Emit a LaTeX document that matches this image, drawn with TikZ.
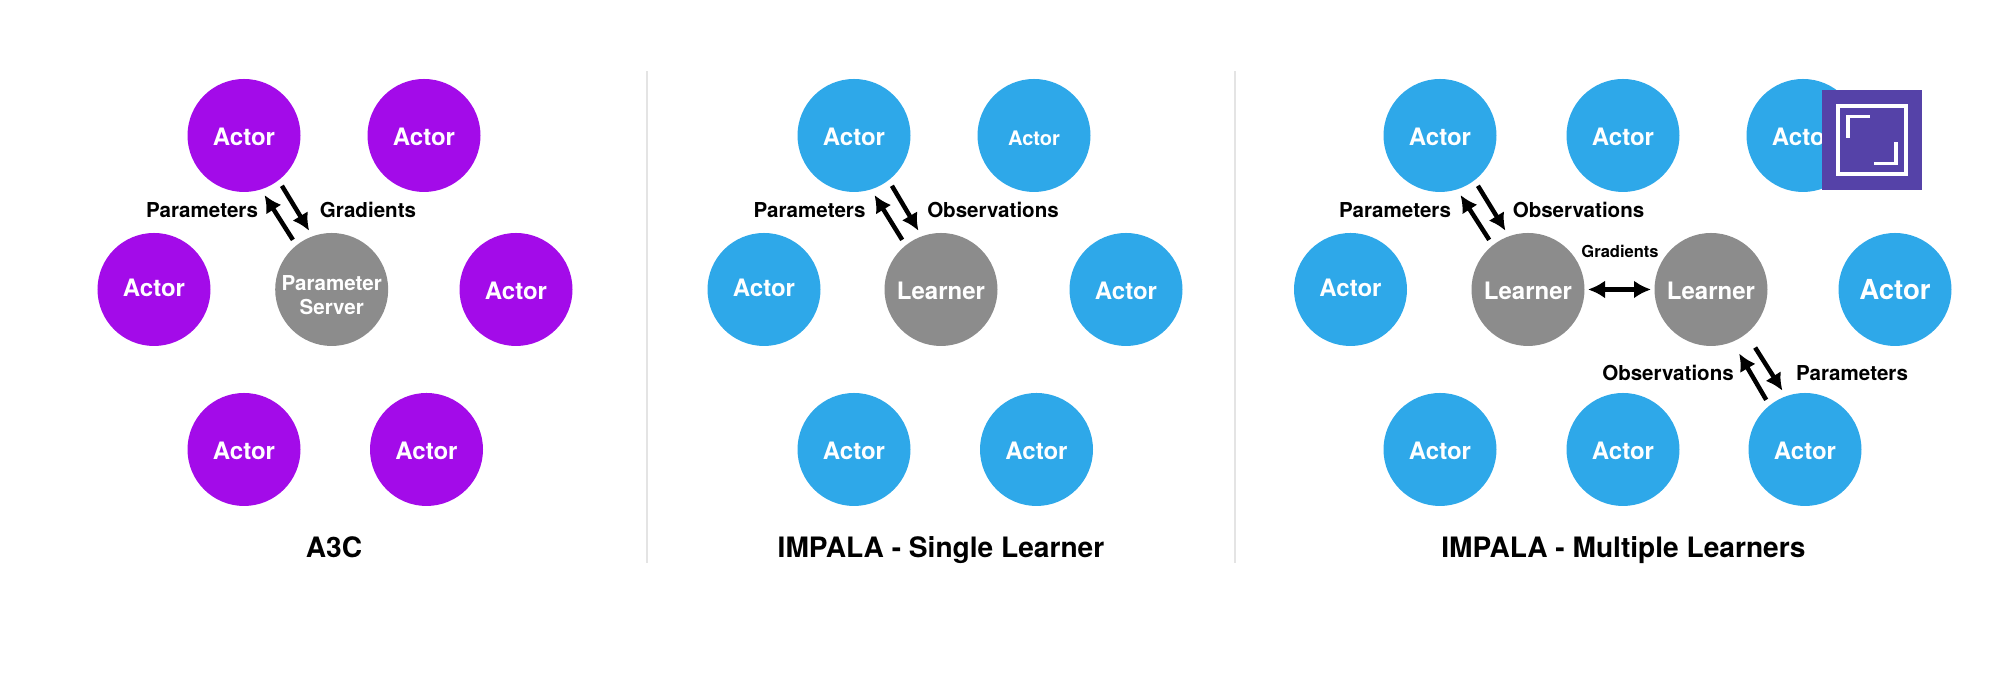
\documentclass[tikz,border=0pt]{standalone}
\usepackage{fontspec}
\setmainfont{TeX Gyre Heros}
\usepackage{xcolor}
\usepackage{tikz}
\usetikzlibrary{arrows.meta,shapes,positioning}
\definecolor{actorblue}{RGB}{46,168,233}
\definecolor{actorpurple}{RGB}{163,11,233}
\definecolor{learnergray}{RGB}{140,140,140}
\definecolor{boxpurple}{RGB}{85,66,168}
\definecolor{dividergray}{RGB}{228,228,228}

\begin{document}
\begin{tikzpicture}[
        circ/.style={circle, inner sep=0pt, outer sep=0.065cm, minimum size=1.13cm, text=white,
            font=\fontsize{6.83}{8}\selectfont\bfseries},
        blue actor/.style={circ, text height=0.2cm, fill=actorblue},
        purple actor/.style={circ, text height=0.2cm, fill=actorpurple},
        raised/.style={text height=0.173cm, text depth=0.03cm},
        learner/.style={circ, text height=0.21cm, fill=learnergray},
        server/.style={circ, fill=learnergray, align=center, font=\fontsize{5.85}{6.9}\selectfont\bfseries},
        caption/.style={inner sep=0pt, font=\fontsize{5.85}{7}\selectfont\bfseries},
        title/.style={inner sep=0pt, anchor=base, font=\fontsize{8}{10}\selectfont\bfseries},
        flow/.style={-{Latex[length=0.17cm,width=0.18cm]}, line width=0.045cm},
        both flow/.style={{Latex[length=0.17cm,width=0.18cm]}-{Latex[length=0.17cm,width=0.18cm]},
            line width=0.045cm, shorten <=-0.03cm, shorten >=-0.03cm},
        divider/.style={dividergray, line width=0.015cm}]

    \useasboundingbox (0,0) rectangle (20.02,6.82);

    \draw[divider] (6.47,6.11) -- (6.47,1.19);
    \draw[divider] (12.35,6.11) -- (12.35,1.19);

    \node[purple actor] (a1) at (2.44,5.465) {Actor};
    \node[purple actor] (a2) at (4.24,5.465) {Actor};
    \node[purple actor, raised] (a3) at (1.54,3.925) {Actor};
    \node[server] (ps) at (3.317,3.925) {\rule{0pt}{0.26cm}Parameter\\Server};
    \node[purple actor] (a4) at (5.16,3.925) {Actor};
    \node[purple actor] (a5) at (2.44,2.325) {Actor};
    \node[purple actor] (a6) at (4.265,2.325) {Actor};

    \draw[flow] (ps.128) -- (a1.289);
    \draw[flow] (a1.-53) -- (ps.111);
    \node[caption] (a3cparam) at (2.02,4.72) {Parameters};
    \node[caption] (a3cgrad) at (3.68,4.72) {Gradients};
    \node[title] (a3ctitle) at (3.34,1.24) {A3C};

    \node[blue actor] (b1) at (8.54,5.465) {Actor};
    \node[blue actor, font=\fontsize{5.7}{7}\selectfont\bfseries] (b2) at (10.34,5.465) {Actor};
    \node[blue actor, raised] (b3) at (7.64,3.925) {Actor};
    \node[learner] (bl) at (9.41,3.925) {Learner};
    \node[blue actor] (b4) at (11.26,3.925) {Actor};
    \node[blue actor] (b5) at (8.54,2.325) {Actor};
    \node[blue actor] (b6) at (10.365,2.325) {Actor};

    \draw[flow] (bl.128) -- (b1.289);
    \draw[flow] (b1.-53) -- (bl.111);
    \node[caption] (bparam) at (8.095,4.72) {Parameters};
    \node[caption] (bobs) at (9.93,4.72) {Observations};
    \node[title] (btitle) at (9.41,1.24) {IMPALA - Single Learner};

    \node[blue actor] (c1) at (14.40,5.465) {Actor};
    \node[blue actor] (c2) at (16.23,5.465) {Actor};
    \node[blue actor] (c3) at (18.03,5.465) {Actor};
    \node[blue actor, raised] (c4) at (13.505,3.925) {Actor};
    \node[learner] (cl1) at (15.28,3.925) {Learner};
    \node[learner] (cl2) at (17.11,3.925) {Learner};
    \node[blue actor, font=\fontsize{7.85}{9}\selectfont\bfseries] (c5) at (18.95,3.925) {Actor};
    \node[blue actor] (c6) at (14.40,2.325) {Actor};
    \node[blue actor] (c7) at (16.23,2.325) {Actor};
    \node[blue actor] (c8) at (18.05,2.325) {Actor};

    \draw[flow] (cl1.128) -- (c1.289);
    \draw[flow] (c1.-53) -- (cl1.111);
    \draw[both flow] (cl1) -- (cl2);
    \draw[flow, shorten >=0.07cm] (c8.128) -- (cl2.293);
    \draw[flow, shorten <=0.1cm] (cl2.-52) -- (c8.111);
    \node[caption] (cparam) at (13.95,4.72) {Parameters};
    \node[caption] (cobs) at (15.785,4.72) {Observations};
    \node[caption, font=\fontsize{4.7}{6}\selectfont\bfseries] (cgrad) at (16.20,4.31) {Gradients};
    \node[caption] (cobs2) at (16.68,3.093) {Observations};
    \node[caption] (cparam2) at (18.52,3.093) {Parameters};
    \node[title] (ctitle) at (16.235,1.24) {IMPALA - Multiple Learners};

    \node[fill=boxpurple, minimum size=1cm, inner sep=0pt] (logo) at (18.72,5.42) {};
    \node[draw=white, line width=0.037cm, minimum size=0.675cm, inner sep=0pt] (logoframe) at (logo) {};
    \draw[white, line width=0.033cm] (18.697,5.653) -- (18.48,5.653) -- (18.48,5.443);
    \draw[white, line width=0.033cm] (18.74,5.187) -- (18.96,5.187) -- (18.96,5.40);
\end{tikzpicture}
\end{document}
